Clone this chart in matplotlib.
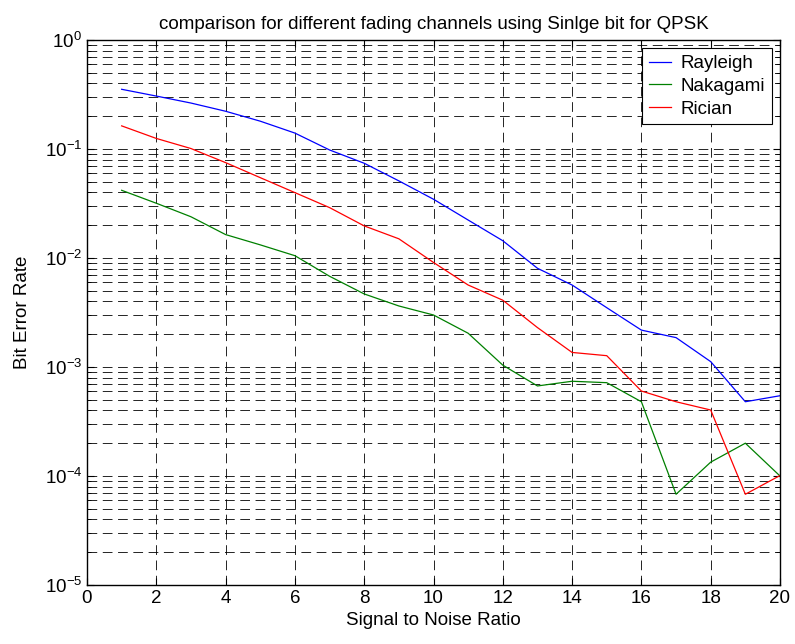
import matplotlib
matplotlib.use("Agg")
import matplotlib.pyplot as plt
import numpy as np
from matplotlib.ticker import LogLocator, FixedLocator, NullFormatter

# SNR values and bit error rates
snr = [1, 2, 3, 4, 5, 6, 7, 8, 9, 10, 11, 12, 13, 14, 15, 16, 17, 18, 19, 20]
ber_rayleigh = [0.353, 0.306, 0.264, 0.222, 0.18, 0.140, 0.098, 0.074, 0.051, 0.0346,
                0.0223, 0.0144, 0.00805, 0.00565, 0.0035, 0.00218, 0.00186, 0.00112,
                0.00048, 0.000545]
ber_nakagami = [0.0418, 0.0318, 0.0239, 0.0164, 0.0132, 0.0105, 0.0068, 0.00468, 0.00363,
                0.0030, 0.00204, 0.00104, 0.00067, 0.00074, 0.000718, 0.00048, 6.8e-5,
                1.34e-4, 2.0e-4, 1.0e-4]
ber_rician = [0.163, 0.125, 0.101, 0.075, 0.0546, 0.0398, 0.029, 0.0197, 0.0150, 0.0091,
              0.00565, 0.0041, 0.0023, 0.00136, 0.00127, 0.000602, 0.00048, 0.000403,
              6.8e-5, 1.01e-4]

plt.rcParams['font.family'] = ['Liberation Sans', 'DejaVu Sans']
plt.rcParams['mathtext.default'] = 'regular'
plt.rcParams['lines.scale_dashes'] = False

fig = plt.figure(figsize=(7.95, 6.44), dpi=100)
ax = fig.add_axes([87 / 795, 1 - 585 / 644, (780 - 87) / 795, (585 - 40) / 644])

ax.semilogy(snr, ber_rayleigh, color='#0000ff', linewidth=0.9, label='Rayleigh')
ax.semilogy(snr, ber_nakagami, color='#008000', linewidth=0.9, label='Nakagami')
ax.semilogy(snr, ber_rician, color='#ff0000', linewidth=0.9, label='Rician')

ax.set_xlim(0, 20)
ax.set_ylim(1e-5, 1)
ax.xaxis.set_major_locator(FixedLocator(np.arange(0, 21, 2)))
ax.yaxis.set_major_locator(LogLocator(base=10, numticks=10))
ax.yaxis.set_minor_locator(LogLocator(base=10, subs=np.arange(2, 10), numticks=10))
ax.yaxis.set_minor_formatter(NullFormatter())

# MATLAB-like dashed grid
ax.grid(True, which='major', axis='both', color='k', linestyle=(0, (7, 4)), linewidth=0.6)
ax.grid(True, which='minor', axis='y', color='k', linestyle=(0, (7, 4)), linewidth=0.6)

ax.tick_params(which='both', direction='in', top=True, right=True, labelsize=13.5)
ax.tick_params(which='major', length=5, width=0.8)
ax.tick_params(which='minor', length=3, width=0.6)
for s in ax.spines.values():
    s.set_linewidth(1.0)

ax.set_title('comparison for different fading channels using Sinlge bit for QPSK', fontsize=13.5, pad=8)
ax.set_xlabel('Signal to Noise Ratio', fontsize=13.5)
ax.set_ylabel('Bit Error Rate', fontsize=13.5, labelpad=10)

leg = ax.legend(loc='upper right', fontsize=13.5, fancybox=False, edgecolor='k',
                framealpha=1, handlelength=1.2, handletextpad=0.5,
                borderaxespad=0.45, labelspacing=0.3, borderpad=0.35)
leg.get_frame().set_linewidth(0.8)

fig.savefig('out.png', dpi=100)
